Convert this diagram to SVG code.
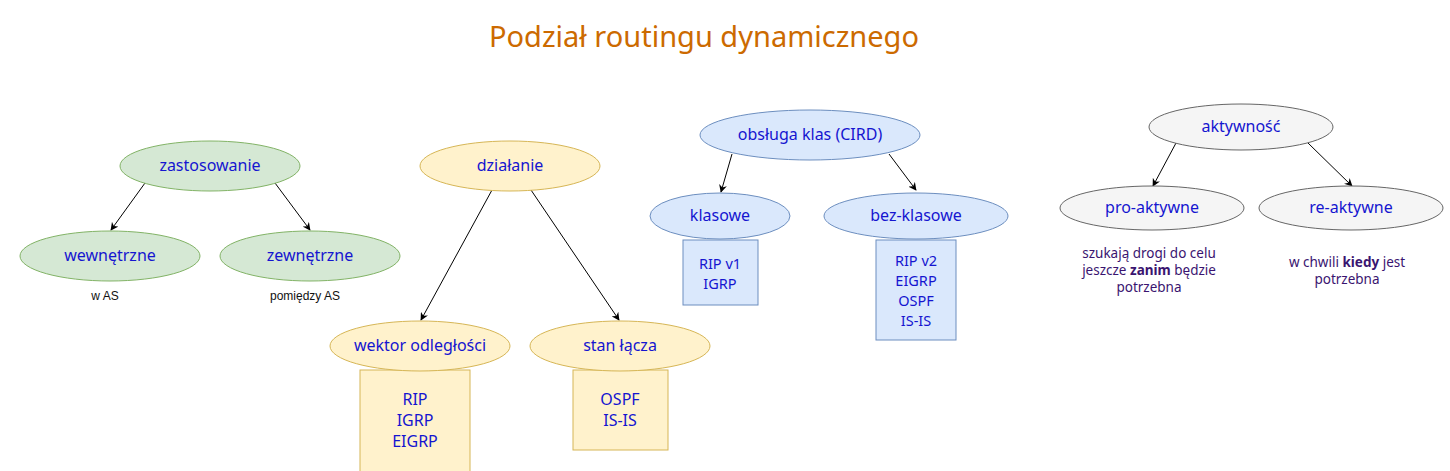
<svg xmlns="http://www.w3.org/2000/svg" width="1450" height="471" viewBox="0 0 1450 471">
<style>
text{font-family:"Noto Sans","Open Sans",sans-serif;}
.t{font-size:16px;fill:#1515d0;text-anchor:middle;}
.s{font-size:14.5px;fill:#1515d0;text-anchor:middle;}
.n{font-size:12px;fill:#111;text-anchor:middle;font-family:"Liberation Sans",Arial,sans-serif;}
.p{font-size:13.5px;fill:#3a1470;text-anchor:middle;}
.g{fill:#d5e8d4;stroke:#82b366;}
.y{fill:#fff2cc;stroke:#d6b656;}
.b{fill:#dae8fc;stroke:#6c8ebf;}
.k{fill:#f5f5f5;stroke:#666666;}
.c line{stroke:#000;stroke-width:1;marker-end:url(#a);}
</style>
<defs>
<marker id="a" viewBox="0 0 10 10" refX="9" refY="5" markerWidth="8" markerHeight="8" orient="auto" markerUnits="userSpaceOnUse">
<path d="M0,0 L10,5 L0,10 L3,5 Z" fill="#000"/>
</marker>
</defs>
<rect width="1450" height="471" fill="#fff"/>
<text x="704" y="47" style="font-size:29px;fill:#cc6a00;text-anchor:middle">Podział routingu dynamicznego</text>

<g class="c">
<line x1="145" y1="183" x2="111" y2="230"/>
<line x1="275" y1="183" x2="310" y2="230"/>
<line x1="492" y1="190" x2="421" y2="320"/>
<line x1="531" y1="190" x2="619" y2="320"/>
<line x1="732" y1="154" x2="721" y2="192"/>
<line x1="889" y1="154" x2="916" y2="190"/>
<line x1="1176" y1="143" x2="1153" y2="186"/>
<line x1="1308" y1="143" x2="1352" y2="186"/>
</g>

<g id="zastosowanie"><ellipse class="g" cx="210" cy="166" rx="90" ry="25"/><text class="t" x="210" y="171">zastosowanie</text></g>
<g id="wewnetrzne"><ellipse class="g" cx="110" cy="256" rx="90" ry="25"/><text class="t" x="110" y="261">wewnętrzne</text><text class="n" x="105" y="300">w AS</text></g>
<g id="zewnetrzne"><ellipse class="g" cx="310" cy="256" rx="90" ry="25"/><text class="t" x="310" y="261">zewnętrzne</text><text class="n" x="305" y="300">pomiędzy AS</text></g>

<g id="dzialanie"><ellipse class="y" cx="510" cy="166" rx="90" ry="25"/><text class="t" x="510" y="171">działanie</text></g>
<g id="wektor"><rect class="y" x="360" y="370" width="110" height="105"/><ellipse class="y" cx="420" cy="346" rx="90" ry="25"/><text class="t" x="420" y="351">wektor odległości</text>
<text class="t" x="415" y="405">RIP</text><text class="t" x="415" y="426">IGRP</text><text class="t" x="415" y="447">EIGRP</text></g>
<g id="stan"><rect class="y" x="573" y="370" width="95" height="80"/><ellipse class="y" cx="620" cy="346" rx="90" ry="25"/><text class="t" x="620" y="351">stan łącza</text>
<text class="t" x="620" y="405">OSPF</text><text class="t" x="620" y="426">IS-IS</text></g>

<g id="obsluga"><ellipse class="b" cx="810" cy="135" rx="110" ry="25"/><text class="t" x="810" y="140">obsługa klas (CIRD)</text></g>
<g id="klasowe"><rect class="b" x="683" y="240" width="75" height="65"/><ellipse class="b" cx="720" cy="216" rx="70" ry="23"/><text class="t" x="720" y="221">klasowe</text>
<text class="s" x="720" y="269">RIP v1</text><text class="s" x="720" y="289">IGRP</text></g>
<g id="bezklasowe"><rect class="b" x="876" y="240" width="80" height="100"/><ellipse class="b" cx="916" cy="216" rx="92" ry="23"/><text class="t" x="916" y="221">bez-klasowe</text>
<text class="s" x="916" y="266">RIP v2</text><text class="s" x="916" y="286">EIGRP</text><text class="s" x="916" y="306">OSPF</text><text class="s" x="916" y="326">IS-IS</text></g>

<g id="aktywnosc"><ellipse class="k" cx="1241" cy="127" rx="92" ry="23"/><text class="t" x="1241" y="132">aktywność</text></g>
<g id="proaktywne"><ellipse class="k" cx="1152" cy="208" rx="92" ry="22"/><text class="t" x="1152" y="213">pro-aktywne</text>
<text class="p" x="1149" y="258">szukają drogi do celu</text><text class="p" x="1149" y="275">jeszcze <tspan font-weight="bold">zanim</tspan> będzie</text><text class="p" x="1149" y="292">potrzebna</text></g>
<g id="reaktywne"><ellipse class="k" cx="1351" cy="208" rx="92" ry="22"/><text class="t" x="1351" y="213">re-aktywne</text>
<text class="p" x="1347" y="267">w chwili <tspan font-weight="bold">kiedy</tspan> jest</text><text class="p" x="1347" y="284">potrzebna</text></g>
</svg>
